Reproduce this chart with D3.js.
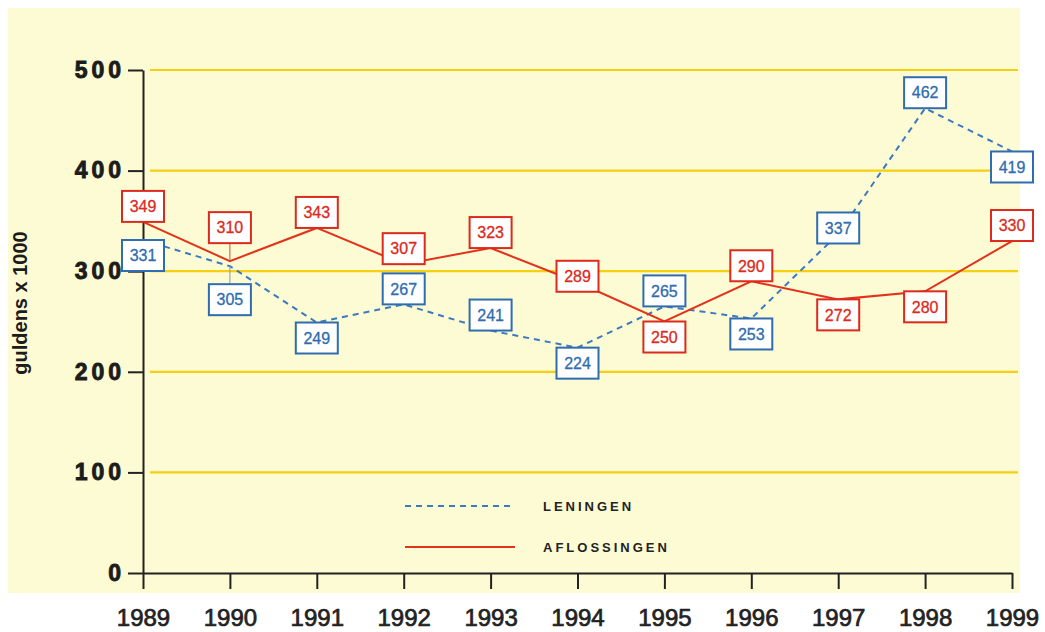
<!DOCTYPE html>
<html>
<head>
<meta charset="utf-8">
<script src="https://cdn.jsdelivr.net/npm/d3@7"></script>
<style>
    body { margin: 0; background: #fff; }
    text { font-family: "Liberation Sans", Arial, sans-serif; }
</style>
</head>
<body>
<script>
// Data
var years = [1989, 1990, 1991, 1992, 1993, 1994, 1995, 1996, 1997, 1998, 1999];
var leningen = [331, 305, 249, 267, 241, 224, 265, 253, 337, 462, 419];
var aflossingen = [349, 310, 343, 307, 323, 289, 250, 290, 272, 280, 330];
var yTicks = [0, 100, 200, 300, 400, 500];
var gridTicks = [100, 200, 300, 400, 500];

// where each value box sits relative to its point
var leningenPlace = ["below", "below", "below", "above", "above", "below", "above", "below", "center", "above", "below"];
var aflossingenPlace = ["above", "above", "above", "above", "above", "center", "below", "above", "below", "below", "above"];
var leaderYears = [1990];

var RED = "#dc2a1c";
var BLUE = "#2f6dae";

var W = 1045, H = 632;
var BOX_W = 42, BOX_H = 31, LEADER = 18;

var svg = d3.select("body")
    .append("svg")
    .attr("width", W)
    .attr("height", H);

var x = d3.scaleLinear().domain([1989, 1999]).range([143, 1012]);
var y = d3.scaleLinear().domain([0, 500]).range([573, 70]);

// cream panel
svg.append("rect")
    .attr("x", 8).attr("y", 8)
    .attr("width", 1012).attr("height", 585)
    .attr("fill", "#fdfbd3");

// yellow grid lines
svg.selectAll(".grid")
    .data(gridTicks)
    .enter()
    .append("line")
    .attr("class", "grid")
    .attr("x1", 150).attr("x2", 1018)
    .attr("y1", function(d) { return y(d); })
    .attr("y2", function(d) { return y(d); })
    .attr("stroke", "#f5cf12")
    .attr("stroke-width", 2.2);

// axes
var yAxis = svg.append("g")
    .attr("transform", "translate(143,0)")
    .call(d3.axisLeft(y).tickValues(yTicks).tickSize(15).tickSizeOuter(0).tickPadding(3));
yAxis.select(".domain").attr("stroke", "#222").attr("stroke-width", 2);
yAxis.selectAll(".tick line").attr("stroke", "#222").attr("stroke-width", 2);
yAxis.selectAll(".tick text")
    .attr("fill", "#1c1c1c")
    .attr("stroke", "#1c1c1c")
    .attr("stroke-width", 0.9)
    .style("font-family", "'Liberation Sans', Arial, sans-serif")
    .style("font-size", "23px")
    .style("font-weight", "bold")
    .style("letter-spacing", "4px");

var xAxis = svg.append("g")
    .attr("transform", "translate(0,573)")
    .call(d3.axisBottom(x).tickValues(years).tickFormat(d3.format("d")).tickSize(16).tickSizeOuter(0).tickPadding(20));
xAxis.select(".domain").attr("stroke", "#222").attr("stroke-width", 2);
xAxis.selectAll(".tick line").attr("stroke", "#222").attr("stroke-width", 2);
xAxis.selectAll(".tick text")
    .attr("fill", "#222")
    .attr("stroke", "#222")
    .attr("stroke-width", 0.7)
    .style("font-family", "'Liberation Sans', Arial, sans-serif")
    .style("font-size", "24px");

// y axis title
svg.append("text")
    .attr("transform", "translate(27,303) rotate(-90)")
    .attr("text-anchor", "middle")
    .attr("fill", "#1c1c1c")
    .style("font-size", "20px")
    .style("font-weight", "bold")
    .text("guldens x 1000");

// series lines
var line = d3.line()
    .x(function(d, i) { return x(years[i]); })
    .y(function(d) { return y(d); });

svg.append("path")
    .datum(leningen)
    .attr("d", line)
    .attr("fill", "none")
    .attr("stroke", "#3b79c2")
    .attr("stroke-width", 2)
    .attr("stroke-dasharray", "6,5");

svg.append("path")
    .datum(aflossingen)
    .attr("d", line)
    .attr("fill", "none")
    .attr("stroke", "#e2321c")
    .attr("stroke-width", 2);

function boxCenter(v, place, year) {
    var py = y(v);
    var gap = leaderYears.indexOf(year) > -1 ? LEADER : 0;
    if (place == "above") return py - BOX_H / 2 - gap;
    if (place == "below") return py + BOX_H / 2 + gap;
    return py - 6;
}

function drawBoxes(values, places, color, leaderColor) {
    values.forEach(function(v, i) {
        var cx = x(years[i]);
        var cy = boxCenter(v, places[i], years[i]);
        if (leaderYears.indexOf(years[i]) > -1) {
            var edge = places[i] == "above" ? cy + BOX_H / 2 : cy - BOX_H / 2;
            svg.append("line")
                .attr("x1", cx).attr("x2", cx)
                .attr("y1", y(v)).attr("y2", edge)
                .attr("stroke", leaderColor)
                .attr("stroke-width", 1);
        }
        svg.append("rect")
            .attr("x", cx - BOX_W / 2)
            .attr("y", cy - BOX_H / 2)
            .attr("width", BOX_W)
            .attr("height", BOX_H)
            .attr("fill", "#fff")
            .attr("stroke", color)
            .attr("stroke-width", 2);
        svg.append("text")
            .attr("x", cx)
            .attr("y", cy)
            .attr("dy", "0.36em")
            .attr("text-anchor", "middle")
            .attr("fill", color)
            .attr("stroke", color)
            .attr("stroke-width", 0.3)
            .style("font-size", "16px")
            .text(v);
    });
}

drawBoxes(leningen, leningenPlace, BLUE, "#7d98b8");
drawBoxes(aflossingen, aflossingenPlace, RED, "#b5593a");

// legend
svg.append("line")
    .attr("x1", 405).attr("x2", 515)
    .attr("y1", 506).attr("y2", 506)
    .attr("stroke", "#3b79c2")
    .attr("stroke-width", 2)
    .attr("stroke-dasharray", "6,5");
svg.append("line")
    .attr("x1", 405).attr("x2", 515)
    .attr("y1", 547).attr("y2", 547)
    .attr("stroke", "#e2321c")
    .attr("stroke-width", 2);

svg.selectAll(".legend")
    .data(["LENINGEN", "AFLOSSINGEN"])
    .enter()
    .append("text")
    .attr("class", "legend")
    .attr("x", 543)
    .attr("y", function(d, i) { return 511 + i * 41; })
    .attr("fill", "#222")
    .style("font-size", "13px")
    .style("font-weight", "bold")
    .style("letter-spacing", "3px")
    .text(function(d) { return d; });
</script>
</body>
</html>
